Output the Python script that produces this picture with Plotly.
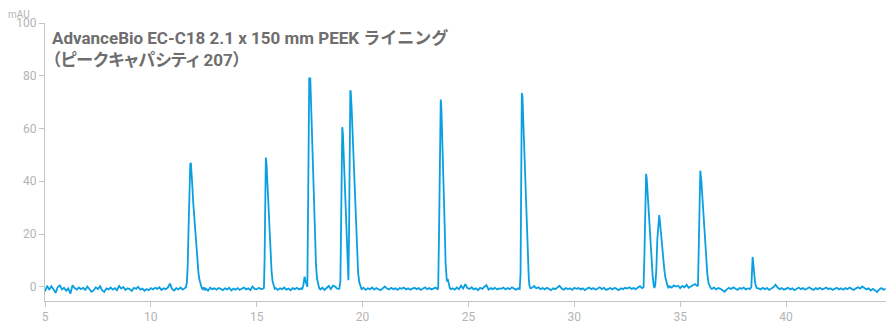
import plotly.graph_objects as go

# ---- data (time in min, absorbance in mAU) ----
seg_a_t = [5.0, 5.1, 5.2, 5.3, 5.4, 5.5, 5.6, 5.7, 5.8, 5.9, 6.0, 6.1, 6.2, 6.3, 6.4, 6.5, 6.6, 6.7, 6.8, 6.9,
           7.0, 7.1, 7.2, 7.3, 7.4, 7.5, 7.6, 7.7, 7.8, 7.9, 8.0, 8.1, 8.2, 8.3, 8.4, 8.5, 8.6, 8.7, 8.8, 8.9,
           9.0, 9.1, 9.2, 9.3, 9.4, 9.5, 9.6, 9.7, 9.8, 9.9, 10.0, 10.1, 10.2, 10.3, 10.4, 10.5, 10.6, 10.7,
           10.8, 10.9, 11.0, 11.1, 11.2, 11.3, 11.4, 11.5, 11.6]
seg_a_v = [-1.8, 0.4, -1.2, 0.2, -0.9, -2.3, -0.2, 0.5, -1.0, -0.4, -1.5, -0.6, -2.6, 0.6, -0.5, -1.1, -0.3, -0.9, -0.4, -1.2,
           0.1, -0.8, -1.9, -1.3, -0.2, -0.9, 0.2, -1.4, -2.0, -0.6, -1.0, -0.3, -1.1, -0.5, -1.3, 0.3, -0.7, -0.1, -1.2, -0.6,
           -0.9, -1.6, -0.4, -0.8, 0.0, -1.1, -0.7, -1.5, -0.9, -1.3, -0.5, -1.0, -0.4, -0.8, -0.2, -1.2, -0.6, -0.9,
           -0.3, 1.2, -0.8, -1.4, -0.5, -1.0, -0.3, -1.1, -0.6]

peak1_t = [11.65, 11.70, 11.74, 11.78, 11.82, 11.86, 11.89, 11.92, 11.96, 12.00, 12.05, 12.10, 12.15, 12.20, 12.25,
           12.30, 12.35, 12.40, 12.45, 12.50, 12.55]
peak1_v = [-0.3, 1.5, 8.0, 22.0, 38.0, 46.5, 47.0, 44.0, 38.0, 32.0, 26.0, 19.0, 13.0, 8.5, 5.0,
           2.5, 0.8, -0.4, -0.9, -0.2, -1.3]

seg_b_t = [12.6, 12.7, 12.8, 12.9, 13.0, 13.1, 13.2, 13.3, 13.4, 13.5, 13.6, 13.7, 13.8, 13.9, 14.0, 14.1, 14.2,
           14.3, 14.4, 14.5, 14.6, 14.7, 14.8, 14.9, 15.0, 15.1, 15.2, 15.3]
seg_b_v = [-0.7, -1.5, -0.4, -0.9, -0.6, -1.1, -0.5, -0.8, -1.3, -0.6, -1.0, -0.4, -1.4, -0.7, -1.1, -0.5, -1.2,
           -0.7, -0.3, -1.0, -0.6, -1.3, 0.1, -0.8, -1.0, -0.4, -0.9, -0.7]

peak2_t = [15.34, 15.37, 15.40, 15.43, 15.46, 15.50, 15.55, 15.60, 15.65, 15.70, 15.75, 15.80, 15.85]
peak2_v = [-0.5, 10.0, 40.0, 49.0, 47.0, 39.0, 31.0, 22.0, 13.0, 6.0, 2.0, 0.3, -0.8]

seg_c_t = [15.9, 16.0, 16.1, 16.2, 16.3, 16.4, 16.5, 16.6, 16.7, 16.8, 16.9, 17.0, 17.1, 17.15]
seg_c_v = [-0.5, -1.2, -0.6, -0.9, -0.3, -1.1, -0.7, -1.3, -0.5, -0.9, -0.4, -1.0, -0.6, -0.8]

peak3_t = [17.20, 17.26, 17.31, 17.36, 17.39, 17.42, 17.46, 17.48, 17.53, 17.55, 17.60, 17.65, 17.70, 17.75,
           17.80, 17.85, 17.90, 17.95]
peak3_v = [0.5, 3.8, 2.0, 0.2, 0.0, 25.0, 70.0, 79.0, 79.0, 74.0, 60.0, 45.0, 30.0, 17.0,
           8.0, 3.0, 1.0, -0.5]

seg_d_t = [18.0, 18.1, 18.2, 18.3, 18.4, 18.5, 18.6, 18.7, 18.8, 18.9]
seg_d_v = [-1.0, -0.4, -1.2, -0.6, 0.3, -0.9, 0.4, 0.1, -0.7, -0.8]

peak45_t = [18.95, 18.98, 19.01, 19.04, 19.07, 19.10, 19.15, 19.20, 19.25, 19.30, 19.33, 19.36, 19.39, 19.42,
            19.44, 19.48, 19.53, 19.58, 19.63, 19.68, 19.73, 19.79, 19.85, 19.90]
peak45_v = [2.0, 20.0, 45.0, 60.5, 58.0, 52.0, 41.0, 29.0, 16.0, 6.0, 2.5, 20.0, 55.0, 74.5,
            74.0, 68.0, 58.0, 48.0, 38.6, 27.0, 16.0, 5.0, 1.5, -0.3]

seg_e_t = [19.95, 20.05, 20.15, 20.25, 20.35, 20.45, 20.55, 20.65, 20.75, 20.85, 20.95, 21.05, 21.15, 21.25,
           21.35, 21.45, 21.55, 21.65, 21.75, 21.85, 21.95, 22.05, 22.15, 22.25, 22.35, 22.45, 22.55, 22.65,
           22.75, 22.85, 22.95, 23.05, 23.15, 23.25, 23.35, 23.45, 23.53]
seg_e_v = [-0.9, -0.4, -1.2, -0.6, -0.9, -0.3, -1.1, -0.5, -0.8, -1.3, -0.6, 0.1, -0.7, -1.0,
           -0.4, -0.9, -0.6, -1.2, -0.5, -0.8, -0.3, -1.0, -0.6, -1.1, -0.7, -0.4, -0.9, -0.5,
           -1.2, -0.6, -0.2, -0.9, -0.5, -1.0, -0.6, -0.3, -0.9]

peak6_t = [23.57, 23.61, 23.65, 23.69, 23.72, 23.76, 23.80, 23.84, 23.88, 23.92, 23.95, 23.98, 24.02, 24.07,
           24.12, 24.17]
peak6_v = [-0.5, 20.0, 55.0, 71.0, 68.0, 58.0, 46.0, 36.7, 22.0, 9.0, 3.5, 2.0, 3.0, 1.0,
           -0.5, -0.9]

seg_f_t = [24.25, 24.35, 24.45, 24.55, 24.65, 24.75, 24.85, 24.95, 25.05, 25.15, 25.25, 25.35, 25.45, 25.55,
           25.65, 25.75, 25.85, 25.95, 26.05, 26.15, 26.25, 26.35, 26.45, 26.55, 26.65, 26.75, 26.85, 26.95,
           27.05, 27.15, 27.25, 27.35, 27.42]
seg_f_v = [-0.6, -1.1, -0.3, -0.9, 0.4, -0.7, 1.0, -0.5, -0.8, -0.2, -1.0, -0.6, -1.3, -0.4,
           -0.8, 0.0, 0.6, -1.1, -0.5, -0.9, -0.4, -1.0, -0.6, -0.8, -0.3, -1.0, -0.5, -0.9,
           -0.2, -0.7, -1.1, -0.6, -0.9]

peak7_t = [27.46, 27.49, 27.52, 27.55, 27.60, 27.65, 27.70, 27.75, 27.80, 27.85, 27.88, 27.93]
peak7_v = [5.0, 45.0, 73.5, 72.0, 60.0, 47.0, 35.0, 24.0, 12.0, 3.0, 0.5, -0.6]

seg_g_t = [28.0, 28.1, 28.2, 28.3, 28.4, 28.5, 28.6, 28.7, 28.8, 28.9, 29.0, 29.1, 29.2, 29.3, 29.4, 29.5,
           29.6, 29.7, 29.8, 29.9, 30.0, 30.1, 30.2, 30.3, 30.4, 30.5, 30.6, 30.7, 30.8, 30.9, 31.0, 31.1,
           31.2, 31.3, 31.4, 31.5, 31.6, 31.7, 31.8, 31.9, 32.0, 32.1, 32.2, 32.3, 32.4, 32.5, 32.6, 32.7,
           32.8, 32.9, 33.0, 33.1, 33.2]
seg_g_v = [-0.4, 0.3, -0.6, -0.2, -0.9, -0.5, -1.0, -0.4, -0.8, -1.3, -0.6, -0.9, -0.3, 0.4, -0.7, -1.1,
           -0.5, -0.9, -0.6, -1.2, -0.4, -0.8, -0.5, -1.0, -0.6, -1.3, -0.7, -0.3, -0.9, -0.5, -1.1, -0.6,
           -0.2, -0.9, -0.4, -1.2, -0.7, -0.5, -1.0, -0.4, -0.8, -1.3, -0.6, -0.9, -0.4, -0.7, -0.2, -0.8,
           -0.5, -0.9, -0.3, 0.2, -0.5]

peak89_t = [33.27, 33.31, 33.35, 33.39, 33.42, 33.46, 33.50, 33.55, 33.60, 33.65, 33.70, 33.75, 33.78,
            33.82, 33.87, 33.92, 33.97, 34.01, 34.05, 34.10, 34.15, 34.20, 34.25, 34.30, 34.35, 34.40, 34.45]
peak89_v = [-0.2, 12.0, 35.0, 42.8, 41.0, 35.0, 30.0, 23.0, 17.0, 10.0, 4.0, 0.5, -0.5,
            0.5, 6.0, 18.0, 26.0, 27.2, 24.0, 19.0, 14.0, 10.0, 6.5, 3.5, 1.5, 0.5, -0.5]

seg_h_t = [34.5, 34.6, 34.7, 34.8, 34.9, 35.0, 35.1, 35.2, 35.3, 35.4, 35.5, 35.6, 35.7, 35.8]
seg_h_v = [0.2, -0.3, 0.5, 0.1, 0.4, -0.5, 0.3, -0.2, 0.8, -0.4, 0.2, 0.6, 1.0, 0.3]

peak10_t = [35.84, 35.88, 35.92, 35.95, 36.00, 36.05, 36.10, 36.15, 36.18, 36.23, 36.28, 36.34, 36.40, 36.45]
peak10_v = [0.5, 20.0, 40.0, 44.0, 40.0, 34.0, 28.0, 21.0, 16.5, 10.0, 5.0, 1.3, 0.0, -0.6]

seg_i_t = [36.5, 36.6, 36.7, 36.8, 36.9, 37.0, 37.1, 37.2, 37.3, 37.4, 37.5, 37.6, 37.7, 37.8, 37.9, 38.0,
           38.1, 38.2, 38.3]
seg_i_v = [-0.8, -0.3, -1.0, -0.5, -0.8, -1.4, -1.9, -1.0, -0.4, -0.9, -0.2, -0.7, -1.2, -0.5, -0.8, -0.3,
           -1.0, -0.6, -0.8]

peak11_t = [38.36, 38.39, 38.42, 38.45, 38.49, 38.53, 38.57, 38.62]
peak11_v = [-0.2, 6.0, 11.3, 9.0, 4.5, 2.0, 0.4, -0.5]

seg_j_t = [38.7, 38.8, 38.9, 39.0, 39.1, 39.2, 39.3, 39.4, 39.5, 39.6, 39.7, 39.8, 39.9, 40.0, 40.1, 40.2,
           40.3, 40.4, 40.5, 40.6, 40.7, 40.8, 40.9, 41.0, 41.1, 41.2, 41.3, 41.4, 41.5, 41.6, 41.7, 41.8,
           41.9, 42.0, 42.1, 42.2, 42.3, 42.4, 42.5, 42.6, 42.7, 42.8, 42.9, 43.0, 43.1, 43.2, 43.3, 43.4,
           43.5, 43.6, 43.7, 43.8, 43.9, 44.0, 44.1, 44.2, 44.3, 44.4, 44.5, 44.6, 44.7]
seg_j_v = [-0.6, -1.0, -0.4, -0.9, -0.5, -1.2, -0.7, -0.2, 0.8, -0.3, -0.9, -0.5, -1.1, -0.7, -0.4, -1.0,
           -0.6, -1.3, -0.8, -0.3, -0.9, -0.5, -1.1, -0.6, -0.2, -0.8, -1.2, -0.5, -0.9, -0.4, -1.0, -0.7,
           -0.3, -0.9, -0.6, -1.2, -0.8, -0.4, -1.0, -0.6, -1.1, -0.5, -0.9, -0.3, -0.8, -1.2, -0.6, -0.2,
           -0.7, 0.1, -0.5, -1.0, -0.6, -1.4, -0.8, -1.3, -2.0, -1.0, -0.5, -1.1, -0.8]

x_ticks = [5, 10, 15, 20, 25, 30, 35, 40]
y_ticks = [0, 20, 40, 60, 80, 100]
title_line1 = "AdvanceBio EC-C18 2.1 x 150 mm PEEK ライニング"
title_line2 = "（ピークキャパシティ 207）"
y_unit = "mAU"

time_min = (seg_a_t + peak1_t + seg_b_t + peak2_t + seg_c_t + peak3_t + seg_d_t + peak45_t + seg_e_t
            + peak6_t + seg_f_t + peak7_t + seg_g_t + peak89_t + seg_h_t + peak10_t + seg_i_t + peak11_t + seg_j_t)
signal_mau = (seg_a_v + peak1_v + seg_b_v + peak2_v + seg_c_v + peak3_v + seg_d_v + peak45_v + seg_e_v
              + peak6_v + seg_f_v + peak7_v + seg_g_v + peak89_v + seg_h_v + peak10_v + seg_i_v + peak11_v + seg_j_v)

AXIS = "#c4c4c4"
TICKFONT = dict(family="Roboto, 'Noto Sans CJK JP', sans-serif", size=12, color="#b4b4b4")

fig = go.Figure()
fig.add_trace(go.Scatter(x=time_min, y=signal_mau, mode="lines",
                         line=dict(color="#0a9fe0", width=1.8), hoverinfo="skip", showlegend=False))

title_text = ("<b>" + title_line1 + "<br>"
              + "<span style=\"font-feature-settings:'palt'\">" + title_line2 + "</span></b>")

# the page body adds an 8px offset on the left/top, so the figure is 8px smaller
fig.update_layout(
    width=887, height=317,
    margin=dict(l=37, r=9, t=15, b=24, autoexpand=False),
    paper_bgcolor="white", plot_bgcolor="white",
    xaxis=dict(range=[5, 44.72], tickvals=x_ticks, showgrid=False, zeroline=False, automargin=False,
               showline=True, linecolor=AXIS, linewidth=1, ticks="outside", ticklen=5,
               tickcolor=AXIS, tickfont=TICKFONT),
    yaxis=dict(range=[-5.4, 100], tickvals=y_ticks, showgrid=False, zeroline=False, automargin=False,
               showline=True, linecolor=AXIS, linewidth=1, ticks="outside", ticklen=5,
               tickcolor=AXIS, tickfont=TICKFONT, ticklabelstandoff=0),
    annotations=[
        dict(text=y_unit, xref="paper", yref="paper", x=0, y=1, xanchor="right", yanchor="bottom",
             xshift=-13, yshift=1, showarrow=False,
             font=dict(family="Roboto, sans-serif", size=10, color="#b4b4b4")),
        dict(text=title_text, xref="paper", yref="paper",
             x=0, y=1, xanchor="left", yanchor="top", xshift=5, yshift=-3, align="left", showarrow=False,
             font=dict(family="Roboto, 'Noto Sans CJK JP', sans-serif", size=17, color="#6e6e6e")),
    ],
)

fig.write_html("out.html")
